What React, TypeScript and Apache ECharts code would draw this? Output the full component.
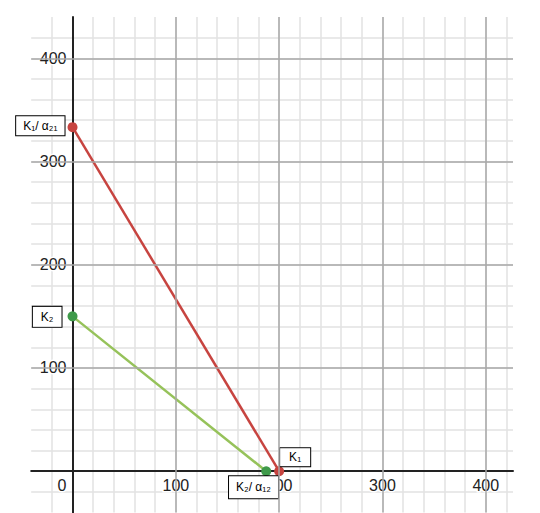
import React, { useEffect, useRef } from "react";
import * as echarts from "echarts";

// Data
const redLine: number[][] = [[0, 333.3], [200, 0]];
const greenLine: number[][] = [[0, 150], [187.5, 0]];
const redLabels: string[] = ["K₁/ α₂₁", "K₁"];
const greenLabels: string[] = ["K₂", "K₂/ α₁₂"];
const majorLines: number[] = [100, 200, 300, 400];

const FONT = "'Liberation Sans', Arial, sans-serif";
const SCALE = 1.033; // px per unit
const AXIS_SHIFT = -40 * SCALE; // axis moved from the -40 edge to 0

const boxStyle = {
  show: true,
  fontSize: 12,
  fontFamily: FONT,
  color: "#000",
  backgroundColor: "#fff",
  borderColor: "#000",
  borderWidth: 1,
};

export default function App() {
  const ref = useRef<HTMLDivElement>(null);

  useEffect(() => {
    if (!ref.current) return;
    const chart = echarts.init(ref.current, undefined, { renderer: "svg" });

    const axisCommon = (isX: boolean) => ({
      type: "value",
      min: -40,
      max: isX ? 426.4 : 440,
      interval: 20,
      offset: AXIS_SHIFT,
      axisLine: { onZero: false, lineStyle: { color: "#222", width: 2 } },
      axisTick: { show: false },
      splitLine: {
        show: true,
        showMinLine: false,
        showMaxLine: false,
        lineStyle: { color: "#e2e2e2", width: 1.5 },
      },
      axisLabel: {
        show: true,
        margin: 6,
        fontSize: 16,
        fontFamily: FONT,
        color: "#222",
        textBorderColor: "#fff",
        textBorderWidth: 3,
        hideOverlap: false,
        formatter: (v: number) => {
          if (v === 0) return isX ? "{z|0}" : "";
          return v % 100 === 0 && v > 0 ? String(v) : "";
        },
        rich: isX
          ? {
              z: {
                fontSize: 16,
                fontFamily: FONT,
                color: "#222",
                padding: [0, 21, 6, 0],
                textBorderColor: "#fff",
                textBorderWidth: 3,
              },
            }
          : undefined,
      },
    });

    const option: any = {
      animation: false,
      grid: {
        left: 31.2,
        right: 27,
        top: 17,
        bottom: 0.5,
        containLabel: false,
        outerBoundsMode: "none",
      },
      xAxis: axisCommon(true),
      yAxis: axisCommon(false),
      series: [
        {
          type: "line",
          data: [],
          z: 1,
          silent: true,
          markLine: {
            silent: true,
            symbol: "none",
            label: { show: false },
            lineStyle: { color: "#a8a8a8", width: 1.5, type: "solid" },
            data: [
              ...majorLines.map((v) => ({ xAxis: v })),
              ...majorLines.map((v) => ({ yAxis: v })),
            ],
          },
        },
        {
          type: "line",
          z: 3,
          data: [
            {
              value: redLine[0],
              label: {
                ...boxStyle,
                formatter: redLabels[0],
                position: "left",
                distance: 3,
                offset: [0, -1.5],
                padding: [4, 7, 3, 7],
              },
            },
            {
              value: redLine[1],
              label: {
                ...boxStyle,
                formatter: redLabels[1],
                position: "right",
                distance: 0,
                offset: [-4, -14],
                padding: [3, 9, 3, 9],
              },
            },
          ],
          symbol: "circle",
          symbolSize: 10,
          itemStyle: { color: "#c74440" },
          lineStyle: { color: "#c74440", width: 2.5 },
        },
        {
          type: "line",
          z: 3,
          data: [
            {
              value: greenLine[0],
              label: {
                ...boxStyle,
                formatter: greenLabels[0],
                position: "left",
                distance: 6,
                offset: [0, 0.5],
                padding: [4, 8, 4, 8],
              },
            },
            {
              value: greenLine[1],
              label: {
                ...boxStyle,
                formatter: greenLabels[1],
                position: "bottom",
                distance: 0,
                offset: [-12.7, 0],
                padding: [5, 7, 5, 7],
              },
            },
          ],
          symbol: "circle",
          symbolSize: 10,
          itemStyle: { color: "#3f9a4a" },
          lineStyle: { color: "#96c25a", width: 2.5 },
        },
      ],
    };

    chart.setOption(option);
    return () => chart.dispose();
  }, []);

  return (
    <div
      ref={ref}
      style={{ position: "fixed", left: 0, top: 0, width: 540, height: 513, background: "#fff" }}
    />
  );
}
